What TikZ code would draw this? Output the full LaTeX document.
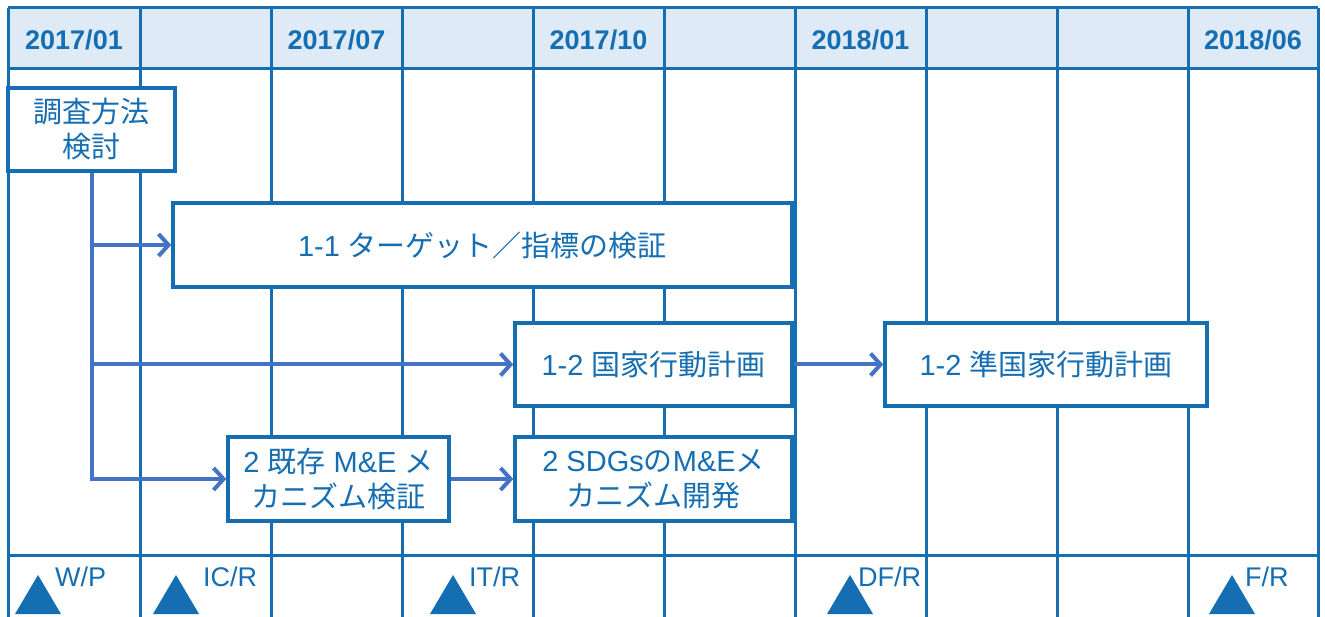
\documentclass[tikz,border=0pt]{standalone}
\usepackage{fontspec}
\setmainfont{Liberation Sans}
\newfontfamily\jp{Noto Sans CJK JP}
\usetikzlibrary{arrows.meta}
\definecolor{gridblue}{RGB}{22,110,178}
\definecolor{headfill}{RGB}{222,235,247}
\definecolor{flowblue}{RGB}{68,114,196}

\begin{document}
\begin{tikzpicture}[x=1pt,y=-1pt,
  grid/.style={draw=gridblue, line width=3pt},
  task/.style={draw=gridblue, line width=3.5pt, fill=white, text=gridblue, align=center, inner sep=0pt, font=\fontsize{29}{35}\selectfont},
  head/.style={text=gridblue, inner sep=0pt, font=\fontsize{27}{30}\selectfont\bfseries},
  mile/.style={text=gridblue, anchor=west, inner sep=0pt, font=\fontsize{27}{30}\selectfont},
  flow/.style={draw=flowblue, line width=4pt, -{Straight Barb[length=10pt,width=22pt]}}]
	\useasboundingbox (0,0) rectangle (1325,617);
	
	% header band and grid
	\fill[headfill] (8,8) rectangle (1318,69);
	\foreach \x in {8,140,271,402,533,664,795,926,1057,1188,1318}
		\draw[grid] (\x,8) -- (\x,617);
	\draw[grid] (8,8) -- (1318,8) (8,69) -- (1318,69) (8,555) -- (1318,555);
	
	\node[head] (m1) at (74,40) {2017/01};
	\node[head] (m7) at (336.5,40) {2017/07};
	\node[head] (m10) at (598.5,40) {2017/10};
	\node[head] (m13) at (860.5,40) {2018/01};
	\node[head] (m18) at (1253,40) {2018/06};
	
	% tasks
	\node[task, minimum width=167, minimum height=83] (survey) at (91.5,129.5) {{\jp 調査方法}\\{\jp 検討}};
	\node[task, minimum width=619, minimum height=84] (t11) at (482.5,245) {1-1 {\jp ターゲット／指標の検証}};
	\node[task, minimum width=277, minimum height=83] (nap) at (653.5,364.5) {1-2 {\jp 国家行動計画}};
	\node[task, minimum width=322, minimum height=83] (snap) at (1046,364.5) {1-2 {\jp 準国家行動計画}};
	\node[task, minimum width=221, minimum height=84] (mne) at (338.5,479) {2 {\jp 既存} M\&E {\jp メ}\\{\jp カニズム検証}};
	\node[task, minimum width=277, minimum height=84] (sdg) at (653.5,479) {2 SDGs{\jp の}M\&E{\jp メ}\\{\jp カニズム開発}};
	
	\draw[flow] (survey.south) |- (t11.west);
	\draw[flow] (survey.south) |- (nap.west);
	\draw[flow] (survey.south) |- (mne.west);
	\draw[flow] (nap.east) -- (snap.west);
	\draw[flow] (mne.east) -- (sdg.west);
	
	% milestones
	\foreach \x in {38,176,453,850,1232}
		\fill[gridblue] (\x-23,614) -- (\x,575) -- (\x+23,614) -- cycle;
	\node[mile] (wp) at (55,577) {W/P};
	\node[mile] (icr) at (203,577) {IC/R};
	\node[mile] (itr) at (469,577) {IT/R};
	\node[mile] (dfr) at (858,577) {DF/R};
	\node[mile] (fr) at (1245,577) {F/R};
\end{tikzpicture}
\end{document}
